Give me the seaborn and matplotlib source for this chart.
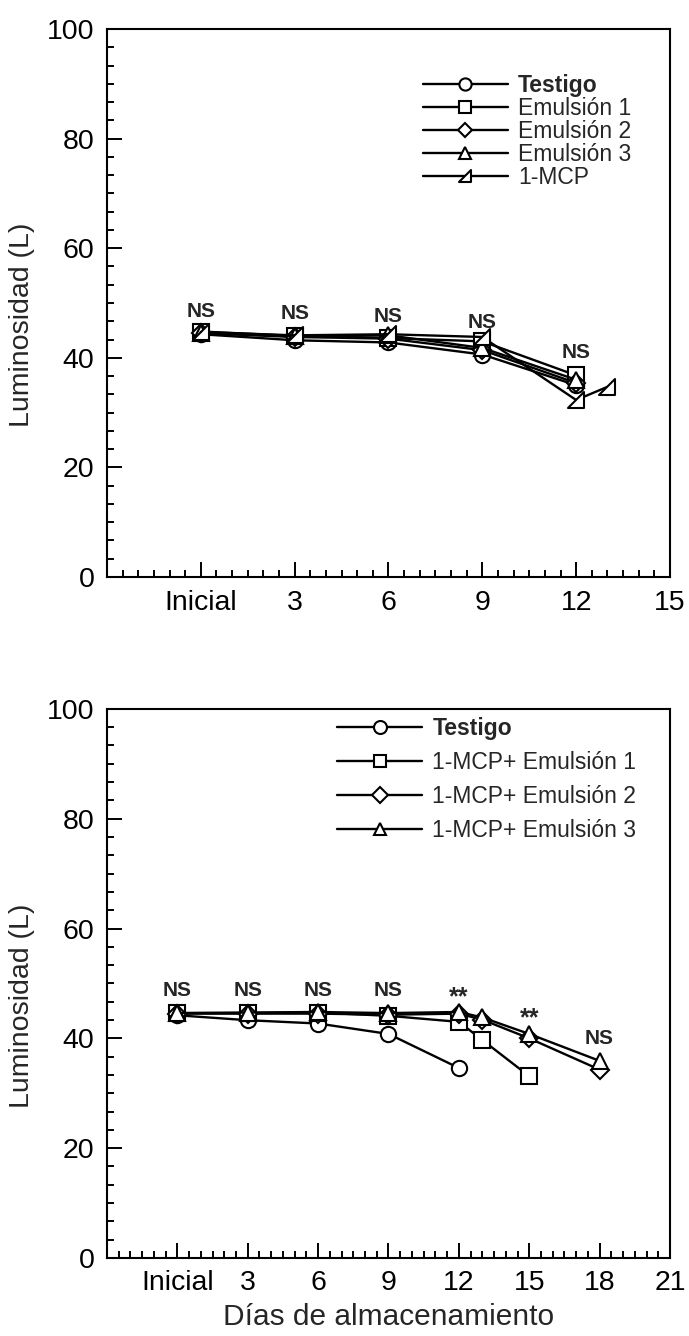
import seaborn as sns
import matplotlib.pyplot as plt
import pandas as pd
from matplotlib.path import Path
from matplotlib.ticker import MultipleLocator, AutoMinorLocator

# ---- panel 1: emulsiones vs 1-MCP ----
top_names = ['Testigo', 'Emulsión 1', 'Emulsión 2', 'Emulsión 3', '1-MCP']
top_testigo_x = [0, 3, 6, 9, 12]
top_testigo_y = [44.3, 43.2, 42.8, 40.6, 35.0]
top_emul1_x = [0, 3, 6, 9, 12]
top_emul1_y = [44.8, 44.0, 43.6, 43.0, 36.8]
top_emul2_x = [0, 3, 6, 9, 12]
top_emul2_y = [44.5, 43.8, 43.5, 41.4, 35.4]
top_emul3_x = [0, 3, 6, 9, 12]
top_emul3_y = [44.6, 43.9, 44.1, 41.8, 36.0]
top_mcp_x = [0, 3, 6, 9, 12, 13]
top_mcp_y = [44.7, 44.1, 44.3, 43.8, 32.3, 34.7]
top_sig_x = [0, 3, 6, 9, 12]
top_sig_y = [48.4, 48.0, 47.5, 46.4, 40.9]
top_sig = ['NS', 'NS', 'NS', 'NS', 'NS']
top_ticks = [0, 3, 6, 9, 12, 15]
top_ticklabels = ['Inicial', '3', '6', '9', '12', '15']

# ---- panel 2: 1-MCP + emulsiones ----
bot_names = ['Testigo', '1-MCP+ Emulsión 1', '1-MCP+ Emulsión 2', '1-MCP+ Emulsión 3']
bot_testigo_x = [0, 3, 6, 9, 12]
bot_testigo_y = [44.2, 43.3, 42.7, 40.8, 34.6]
bot_emul1_x = [0, 3, 6, 9, 12, 13, 15]
bot_emul1_y = [44.6, 44.6, 44.7, 44.1, 43.0, 39.7, 33.1]
bot_emul2_x = [0, 3, 6, 9, 12, 13, 15, 18]
bot_emul2_y = [44.5, 44.5, 44.5, 44.3, 44.5, 43.4, 40.0, 34.3]
bot_emul3_x = [0, 3, 6, 9, 12, 13, 15, 18]
bot_emul3_y = [44.6, 44.7, 44.8, 44.6, 44.8, 43.8, 40.8, 35.9]
bot_sig_x = [0, 3, 6, 9, 12, 15, 18]
bot_sig_y = [48.8, 48.8, 48.8, 48.8, 47.4, 43.7, 39.9]
bot_sig = ['NS', 'NS', 'NS', 'NS', '**', '**', 'NS']
bot_ticks = [0, 3, 6, 9, 12, 15, 18, 21]
bot_ticklabels = ['Inicial', '3', '6', '9', '12', '15', '18', '21']


def long_table(names, xs, ys):
    parts = [pd.DataFrame({'dia': x, 'L': y, 'trat': n}) for n, x, y in zip(names, xs, ys)]
    return pd.concat(parts, ignore_index=True)


top_df = long_table(top_names,
                    [top_testigo_x, top_emul1_x, top_emul2_x, top_emul3_x, top_mcp_x],
                    [top_testigo_y, top_emul1_y, top_emul2_y, top_emul3_y, top_mcp_y])
bot_df = long_table(bot_names,
                    [bot_testigo_x, bot_emul1_x, bot_emul2_x, bot_emul3_x],
                    [bot_testigo_y, bot_emul1_y, bot_emul2_y, bot_emul3_y])

half_tri = Path([(-1, -1), (1, -1), (1, 1), (-1, -1)],
                [Path.MOVETO, Path.LINETO, Path.LINETO, Path.CLOSEPOLY])

sns.set_style('white')
plt.rcParams['font.family'] = ['Liberation Sans', 'DejaVu Sans']

fig = plt.figure(figsize=(6.89, 13.36), dpi=100)
ax1 = fig.add_axes([0.1553, 0.5681, 0.8171, 0.4102])
ax2 = fig.add_axes([0.1553, 0.0584, 0.8171, 0.4110])

line_kws = dict(linewidth=1.7, markersize=11, markerfacecolor='white',
                markeredgecolor='black', markeredgewidth=1.5, errorbar=None, legend=False)

sns.lineplot(data=top_df, x='dia', y='L', hue='trat', style='trat', ax=ax1,
             palette={n: 'black' for n in top_names}, dashes=False,
             markers=dict(zip(top_names, ['o', 's', 'D', '^', half_tri])), **line_kws)
sns.lineplot(data=bot_df, x='dia', y='L', hue='trat', style='trat', ax=ax2,
             palette={n: 'black' for n in bot_names}, dashes=False,
             markers=dict(zip(bot_names, ['o', 's', 'D', '^'])), **line_kws)

# diamonds are drawn a bit smaller than the other symbols
ax1.get_lines()[2].set_markersize(9)
ax2.get_lines()[2].set_markersize(9)


def style_axis(ax, xmax, ticks, ticklabels):
    ax.set_xlim(-3, xmax)
    ax.set_ylim(0, 100)
    ax.set_xticks(ticks)
    ax.set_xticklabels(ticklabels)
    ax.yaxis.set_major_locator(MultipleLocator(20))
    ax.xaxis.set_minor_locator(AutoMinorLocator(6))
    ax.yaxis.set_minor_locator(AutoMinorLocator(6))
    ax.tick_params(which='both', direction='in', colors='black', width=1.4,
                   bottom=True, left=True, top=False, right=False, labelsize=20.5, pad=9)
    ax.tick_params(which='major', length=11)
    ax.tick_params(which='minor', length=5)
    for s in ax.spines.values():
        s.set_visible(True)
        s.set_color('black')
        s.set_linewidth(1.5)
    ax.set_ylabel('Luminosidad (L)', fontsize=20.5)
    ax.yaxis.set_label_coords(-0.128, 0.46)
    ax.set_xlabel('')


style_axis(ax1, 15, top_ticks, top_ticklabels)
style_axis(ax2, 21, bot_ticks, bot_ticklabels)
ax2.set_xlabel('Días de almacenamiento', fontsize=21.5, labelpad=5)

for x, y, s in zip(top_sig_x, top_sig_y, top_sig):
    ax1.text(x, y, s, ha='center', va='center', fontsize=15, fontweight='bold')
for x, y, s in zip(bot_sig_x, bot_sig_y, bot_sig):
    ax2.text(x, y, s, ha='center', va='center', fontweight='bold',
             fontsize=15 if s == 'NS' else 18)

leg1 = ax1.legend(ax1.get_lines()[:len(top_names)], top_names, loc='upper left',
                  bbox_to_anchor=(0.561, 0.918), frameon=False, fontsize=16.5,
                  handlelength=3.7, handletextpad=0.45, labelspacing=0.0,
                  borderpad=0, borderaxespad=0, markerscale=0.8)
leg1.get_texts()[0].set_fontweight('bold')

leg2 = ax2.legend(ax2.get_lines()[:len(bot_names)], bot_names, loc='upper left',
                  bbox_to_anchor=(0.409, 0.985), frameon=False, fontsize=16.5,
                  handlelength=3.7, handletextpad=0.45, labelspacing=0.48,
                  borderpad=0, borderaxespad=0, markerscale=0.85)
leg2.get_texts()[0].set_fontweight('bold')

fig.savefig('out.png', dpi=100)
plt.close(fig)
